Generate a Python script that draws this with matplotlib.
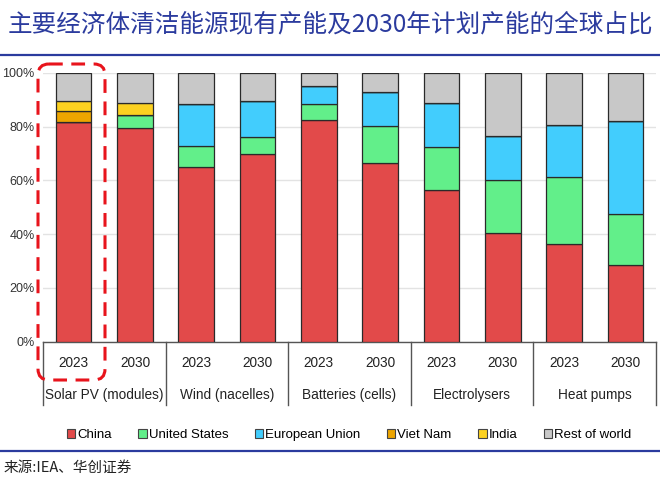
import matplotlib
matplotlib.use("Agg")
import matplotlib.pyplot as plt
import numpy as np
from matplotlib.patches import FancyBboxPatch, Patch

plt.rcParams['font.family'] = ['Liberation Sans', 'Noto Sans CJK SC', 'DejaVu Sans']

# ---------------- data ----------------
title = "主要经济体清洁能源现有产能及2030年计划产能的全球占比"
source = "来源:IEA、华创证券"
groups = ["Solar PV (modules)", "Wind (nacelles)", "Batteries (cells)", "Electrolysers", "Heat pumps"]
years = ["2023", "2030"]
series = ["China", "United States", "European Union", "Viet Nam", "India", "Rest of world"]
china = [81.7, 79.6, 65.0, 70.0, 82.5, 66.6, 56.6, 40.5, 36.3, 28.6]
united_states = [0.0, 4.6, 7.7, 6.3, 5.9, 13.5, 15.7, 19.8, 25.1, 19.1]
european_union = [0.0, 0.0, 15.7, 13.1, 6.9, 12.7, 16.7, 16.3, 19.3, 34.3]
viet_nam = [4.2, 0.0, 0.0, 0.0, 0.0, 0.0, 0.0, 0.0, 0.0, 0.0]
india = [3.7, 4.6, 0.0, 0.0, 0.0, 0.0, 0.0, 0.0, 0.0, 0.0]
rest_of_world = [10.4, 11.2, 11.6, 10.6, 4.7, 7.2, 11.0, 23.4, 19.3, 18.0]
colors = ["#e24a4a", "#62ef8a", "#42cdfd", "#eda500", "#fcd120", "#c8c8c8"]

values = [china, united_states, european_union, viet_nam, india, rest_of_world]

fig = plt.figure(figsize=(6.6, 4.82), dpi=100)
W, H = 660, 482

ax_left, ax_right = 43, 656
ax_top, ax_bottom = 73, 341.7
ax = fig.add_axes([ax_left / W, 1 - ax_bottom / H, (ax_right - ax_left) / W, (ax_bottom - ax_top) / H])

n = len(china)
x = np.arange(n)
bottom = np.zeros(n)
for name, vals, col in zip(series, values, colors):
    v = np.array(vals) / 100.0
    ax.bar(x, v, width=0.58, bottom=bottom, color=col, edgecolor="#2a2a2a",
           linewidth=0.9, zorder=3, label=name)
    bottom += v

ax.set_xlim(-0.5, n - 0.5)
ax.set_ylim(0, 1.0)
ax.set_yticks(np.arange(0, 1.01, 0.2))
ax.set_yticklabels([f"{int(round(t*100))}%" for t in np.arange(0, 1.01, 0.2)],
                   fontsize=9, color="#333333")
ax.tick_params(axis="y", length=0, pad=6)
ax.grid(axis="y", color="#e3e3e3", linewidth=1, zorder=0)
ax.set_axisbelow(True)
for s in ["left", "right", "top"]:
    ax.spines[s].set_visible(False)
ax.spines["bottom"].set_color("#555555")
ax.spines["bottom"].set_linewidth(1)

ax.set_xticks(x)
ax.set_xticklabels(years * len(groups), fontsize=9.8, color="#222222")
ax.tick_params(axis="x", length=0, pad=10)

tr = ax.get_xaxis_transform()
h = ax_bottom - ax_top
for gi, g in enumerate(groups):
    ax.text(2 * gi + 0.5, (ax_bottom - 395) / h, g, transform=tr, ha="center", va="center",
            fontsize=9.8, color="#222222")
for sx in np.arange(-0.5, n, 2):
    ax.plot([sx, sx], [0, (ax_bottom - 405) / h], transform=tr, color="#555555",
            linewidth=1, clip_on=False)

handles = [Patch(facecolor=c, edgecolor="#444444", linewidth=0.8, label=s) for s, c in zip(series, colors)]
fig.legend(handles=handles, loc="center", bbox_to_anchor=(349 / W, 1 - 435 / H), ncol=6,
           frameon=False, fontsize=9.5, handlelength=0.65, handleheight=0.65,
           handletextpad=0.15, columnspacing=2.0)

# overlay in pixel coordinates
ov = fig.add_axes([0, 0, 1, 1], zorder=10)
ov.set_xlim(0, W)
ov.set_ylim(H, 0)
ov.axis("off")
ov.patch.set_alpha(0)

ov.text(8, 24, title, fontsize=17.7, color="#2b3b9e", va="center", ha="left",
        family=["Noto Sans CJK SC", "DejaVu Sans"])
ov.plot([0, W], [55, 55], color="#2b3b9e", linewidth=1.6)
ov.plot([0, W], [451, 451], color="#2b3b9e", linewidth=1.6)
ov.text(4, 468, source, fontsize=10.5, color="#222222", va="center", ha="left",
        family=["Noto Sans CJK SC", "DejaVu Sans"])

box = FancyBboxPatch((38, 64), 67, 316, boxstyle="round,pad=0,rounding_size=11",
                     fill=False, edgecolor="#e8141c", linewidth=2.2,
                     linestyle=(0, (4.5, 2.8)))
ov.add_patch(box)

fig.savefig("out.png", dpi=100)
